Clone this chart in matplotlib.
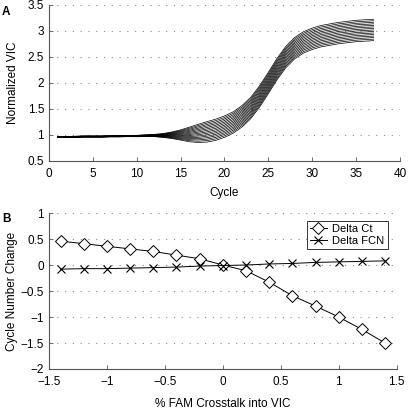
import matplotlib
matplotlib.use("Agg")
import matplotlib.pyplot as plt
import numpy as np

plt.rcParams["font.family"] = ["Liberation Sans", "DejaVu Sans"]
plt.rcParams["font.size"] = 8

# Panel A: amplification curves
cycles = list(range(1, 38))
# mittlere VIC-Kurve (ohne Crosstalk)
base_vic = [0.96, 0.96, 0.965, 0.97, 0.97, 0.97, 0.975, 0.975, 0.98, 0.98,
            0.985, 0.99, 0.99, 0.995, 1.0, 1.01, 1.03, 1.06, 1.1, 1.16,
            1.24, 1.36, 1.52, 1.74, 2.0, 2.27, 2.5, 2.67, 2.78, 2.85,
            2.9, 2.93, 2.96, 2.98, 3.0, 3.01, 3.02]
# FAM-Signal pro 1 % Crosstalk
fam_per_pct = [0.008, 0.008, 0.008, 0.008, 0.008, 0.008, 0.008, 0.008, 0.009, 0.01,
               0.012, 0.016, 0.026, 0.045, 0.07, 0.1, 0.125, 0.14, 0.146, 0.147,
               0.147, 0.147, 0.147, 0.147, 0.147, 0.147, 0.147, 0.147, 0.147, 0.147,
               0.147, 0.147, 0.147, 0.147, 0.147, 0.147, 0.147]

# Panel B
crosstalk = [-1.4, -1.2, -1.0, -0.8, -0.6, -0.4, -0.2, 0.0, 0.2, 0.4, 0.6, 0.8, 1.0, 1.2, 1.4]
delta_ct = [0.46, 0.41, 0.36, 0.31, 0.26, 0.19, 0.12, 0.0, -0.11, -0.33, -0.59, -0.79, -1.0, -1.24, -1.5]
delta_fcn = [-0.08, -0.07, -0.07, -0.06, -0.05, -0.04, -0.02, -0.01, 0.0, 0.02, 0.03, 0.05, 0.06, 0.07, 0.08]


def style_axes(ax):
    ax.spines["top"].set_visible(False)
    ax.spines["right"].set_visible(False)
    for s in ("left", "bottom"):
        ax.spines[s].set_color("#555555")
        ax.spines[s].set_linewidth(0.8)
    ax.tick_params(direction="in", length=3, width=0.6, color="#555555", labelsize=8.5)
    ax.tick_params(axis="x", pad=5)
    ax.yaxis.grid(True, linestyle=(0, (1, 6)), color="#888888", linewidth=0.8)
    ax.set_axisbelow(True)


fig = plt.figure(figsize=(4.1, 4.09), dpi=100)

axA = fig.add_axes([0.1195, 0.6064, 0.856, 0.3814])
base = np.array(base_vic)
fam = np.array(fam_per_pct)
for c in crosstalk:
    axA.plot(cycles, base + c * fam, color="black", linewidth=0.5)
axA.set_xlim(0, 40)
axA.set_ylim(0.5, 3.5)
axA.set_xticks(range(0, 41, 5))
axA.set_yticks([0.5, 1, 1.5, 2, 2.5, 3, 3.5])
axA.set_yticklabels(["0.5", "1", "1.5", "2", "2.5", "3", "3.5"])
axA.set_xlabel("Cycle", fontsize=8.5, labelpad=5)
axA.set_ylabel("Normalized VIC", fontsize=8.5, labelpad=6)
style_axes(axA)

axB = fig.add_axes([0.1195, 0.0978, 0.848, 0.3814])
axB.plot(crosstalk, delta_ct, color="black", linewidth=0.7, marker="D",
         markersize=6.5, markerfacecolor="white", markeredgecolor="black",
         markeredgewidth=0.7, label="Delta Ct")
axB.plot(crosstalk, delta_fcn, color="black", linewidth=0.7, marker="x",
         markersize=6, markeredgewidth=0.8, label="Delta FCN")
axB.set_xlim(-1.5, 1.5)
axB.set_ylim(-2, 1)
axB.set_xticks([-1.5, -1, -0.5, 0, 0.5, 1, 1.5])
axB.set_xticklabels(["\u22121.5", "\u22121", "\u22120.5", "0", "0.5", "1", "1.5"])
axB.set_yticks([-2, -1.5, -1, -0.5, 0, 0.5, 1])
axB.set_yticklabels(["\u22122", "\u22121.5", "\u22121", "\u22120.5", "0", "0.5", "1"])
axB.set_xlabel("% FAM Crosstalk into VIC", fontsize=8.5, labelpad=7)
axB.set_ylabel("Cycle Number Change", fontsize=8.5, labelpad=2)
style_axes(axB)
leg = axB.legend(loc="upper right", fontsize=8, frameon=True, fancybox=False,
                 borderpad=0.3, labelspacing=0.15, handlelength=1.5,
                 handletextpad=0.5, bbox_to_anchor=(0.99, 0.985))
leg.get_frame().set_edgecolor("black")
leg.get_frame().set_linewidth(0.7)

fig.text(0.005, 0.985, "A", fontsize=8.5, fontweight="bold", va="top")
fig.text(0.005, 0.478, "B", fontsize=8.5, fontweight="bold", va="top")

fig.savefig("out.png", dpi=100)
